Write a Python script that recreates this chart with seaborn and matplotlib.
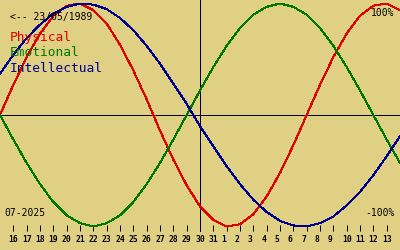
import matplotlib
matplotlib.use("Agg")
import matplotlib.pyplot as plt
import seaborn as sns
import pandas as pd

# ---- data (daily biorhythm values, July 15 .. Aug 14 2025) ----
days = list(range(15, 46))  # day index: 15..31 = July, 32.. = August
physical = [0.00, 0.27, 0.52, 0.73, 0.89, 0.98, 1.00, 0.94, 0.82, 0.63, 0.40, 0.14,
            -0.14, -0.40, -0.63, -0.82, -0.94, -1.00, -0.98, -0.89, -0.73, -0.52,
            -0.27, 0.00, 0.27, 0.52, 0.73, 0.89, 0.98, 1.00, 0.94]
emotional = [0.00, -0.22, -0.43, -0.62, -0.78, -0.90, -0.97, -1.00, -0.97, -0.90,
             -0.78, -0.62, -0.43, -0.22, 0.00, 0.22, 0.43, 0.62, 0.78, 0.90, 0.97,
             1.00, 0.97, 0.90, 0.78, 0.62, 0.43, 0.22, 0.00, -0.22, -0.43]
intellectual = [0.37, 0.54, 0.69, 0.81, 0.91, 0.97, 1.00, 0.99, 0.95, 0.87, 0.76,
                0.62, 0.46, 0.28, 0.10, -0.10, -0.28, -0.46, -0.62, -0.76, -0.87,
                -0.95, -0.99, -1.00, -0.97, -0.91, -0.81, -0.69, -0.54, -0.37, -0.19]
tick_days = list(range(16, 45))
tick_labels = ["16", "17", "18", "19", "20", "21", "22", "23", "24", "25", "26",
               "27", "28", "29", "30", "31", "1", "2", "3", "4", "5", "6", "7",
               "8", "9", "10", "11", "12", "13"]
today = 30
series_names = ["Physical", "Emotional", "Intellectual"]
birth_label = "<-- 23/05/1989"
month_label = "07-2025"

BG = "#E0D084"
RED = "#E00000"
GREEN = "#007800"
BLUE = "#000090"
W, H = 400, 250
LW = 0.72  # one pixel

fig = plt.figure(figsize=(4, 2.5), dpi=100)
fig.patch.set_facecolor(BG)
ax = fig.add_axes([0, 0, 1, 1])
ax.set_facecolor(BG)

df = pd.DataFrame({"day": days, "Physical": physical,
                   "Emotional": emotional, "Intellectual": intellectual})
for name, col in zip(series_names, [RED, GREEN, BLUE]):
    sns.lineplot(data=df, x="day", y=name, color=col, linewidth=LW, ax=ax,
                 antialiased=False, zorder=3)

ax.set_xlim(15, 45)
ax.set_ylim(-1.2108, 1.0314)

# zero line and today line
ax.axhline(0, color="black", linewidth=LW, antialiased=False, zorder=2)
tick_frac = (H - 230.5) / H
ax.axvline(today, ymin=tick_frac, ymax=1, color="black", linewidth=LW,
           antialiased=False, zorder=2)

for s in ax.spines.values():
    s.set_visible(False)
ax.spines["bottom"].set_position(("axes", tick_frac))
ax.set_yticks([])
ax.set_xticks(tick_days)
ax.set_xticklabels([f"{t:<2}" for t in tick_labels], fontfamily="DejaVu Sans Mono",
                   fontweight="bold", fontsize=5.8)
ax.tick_params(axis="x", direction="in", length=4.5, width=LW, pad=3.0,
               colors="black")
ax.set_xlabel("")
ax.set_ylabel("")


def ptext(x, y, s, **kw):
    fig.text(x / W, 1 - y / H, s, va="baseline", fontfamily="DejaVu Sans Mono", **kw)


ptext(10, 20, birth_label, fontsize=7, color="black")
ptext(10, 41, series_names[0], fontsize=9.3, color=RED)
ptext(10, 56.5, series_names[1], fontsize=9.3, color=GREEN)
ptext(10, 72, series_names[2], fontsize=9.3, color=BLUE)
ptext(394, 16, "100%", fontsize=7, color="black", ha="right")
ptext(395, 216, "-100%", fontsize=7, color="black", ha="right")
ptext(4, 216, month_label, fontsize=7, color="black")

fig.savefig("out.png", dpi=100, facecolor=BG)
